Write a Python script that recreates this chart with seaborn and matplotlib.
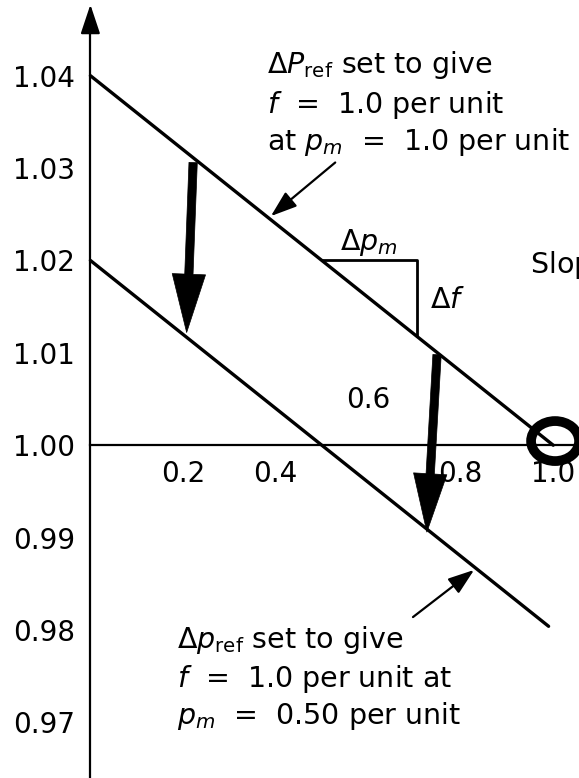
import matplotlib
matplotlib.use("Agg")
import matplotlib.pyplot as plt
from matplotlib.patches import Ellipse
import seaborn as sns

# Speed-droop characteristics: mechanical power p_m (per unit) vs frequency f (per unit)
upper_p = [0.0, 1.0]
upper_f = [1.04, 1.00]
lower_p = [0.0, 0.99]
lower_f = [1.02, 0.9804]

# Slope triangle drawn against the upper characteristic
tri_p = [0.50, 0.705, 0.705]
tri_f = [1.020, 1.020, 1.0118]

y_ticks = [0.97, 0.98, 0.99, 1.00, 1.01, 1.02, 1.03, 1.04]
y_labels = ["0.97", "0.98", "0.99", "1.00", "1.01", "1.02", "1.03", "1.04"]
x_ticks = [0.2, 0.4, 0.6, 0.8, 1.0]
x_labels = ["0.2", "0.4", "", "0.8", "1.0"]   # 0.6 is written above the axis

# Bold arrows showing the shift from the upper to the lower characteristic
shift_start_p = [0.222, 0.749]
shift_start_f = [1.0306, 1.0098]
shift_end_p = [0.208, 0.727]
shift_end_f = [1.0122, 0.9906]

# Operating point that is circled
op_p, op_f = 1.004, 1.00045

sns.set_style("white")
plt.rcParams["font.family"] = ["DejaVu Sans"]
plt.rcParams["mathtext.fontset"] = "dejavusans"
plt.rcParams["text.color"] = "black"

fig = plt.figure(figsize=(5.79, 7.78), dpi=100)
ax = fig.add_axes([0, 0, 1, 1])
ax.set_xlim(-0.1953, 1.0557)
ax.set_ylim(0.96398, 1.04819)

# Axes crossing at (0, 1.00)
for side in ["top", "right"]:
    ax.spines[side].set_visible(False)
ax.spines["left"].set_position(("data", 0.0))
ax.spines["bottom"].set_position(("data", 1.0))
ymin, ymax = ax.get_ylim()
xmin, xmax = ax.get_xlim()
ax.spines["bottom"].set_bounds(0.0, xmax)
ax.spines["left"].set_bounds(ymin, ymax - 0.0025)
for side in ["left", "bottom"]:
    ax.spines[side].set_color("black")
    ax.spines[side].set_linewidth(1.6)

# arrow head on top of the frequency axis
ax.annotate("", xy=(0.0, ymax - 0.0005), xytext=(0.0, ymax - 0.0030),
            arrowprops=dict(arrowstyle="-|>,head_length=0.9,head_width=0.3",
                            mutation_scale=20, color="black", lw=1.6,
                            shrinkA=0, shrinkB=0))

ax.set_yticks(y_ticks, y_labels)
ax.tick_params(axis="y", direction="in", length=17, width=1.5, pad=11,
               labelsize=20, colors="black")
ax.set_xticks(x_ticks, x_labels)
ax.tick_params(axis="x", direction="in", length=14, width=1.5, pad=11,
               labelsize=20, colors="black")
ax.text(0.6, 1.00403, "0.6", ha="center", va="baseline", fontsize=20)

# Droop lines and slope triangle
line_kw = dict(estimator=None, sort=False, color="black", ax=ax)
sns.lineplot(x=upper_p, y=upper_f, linewidth=2.4, **line_kw)
sns.lineplot(x=lower_p, y=lower_f, linewidth=2.4, **line_kw)
sns.lineplot(x=tri_p, y=tri_f, linewidth=2.0, **line_kw)

ax.text(0.540, 1.02113, r"$\Delta p_m$", fontsize=20.5, va="baseline")
ax.text(0.734, 1.01484, r"$\Delta f$", fontsize=20.5, va="baseline")
ax.text(0.950, 1.01864, r"Slope = $-R$", fontsize=20.5, va="baseline")

# Bold hand-drawn shift arrows
for ps, fs, pe, fe in zip(shift_start_p, shift_start_f, shift_end_p, shift_end_f):
    ax.annotate("", xy=(pe, fe), xytext=(ps, fs),
                arrowprops=dict(arrowstyle="simple,head_length=4.2,head_width=2.4,tail_width=0.6",
                                mutation_scale=10, facecolor="black",
                                edgecolor="black", lw=0.5,
                                shrinkA=0, shrinkB=0), zorder=4)

# Circle around the rated operating point
ax.add_patch(Ellipse((op_p, op_f), width=0.1037, height=0.00433,
                     facecolor="none", edgecolor="black", lw=7, zorder=5))

# Annotation for the upper characteristic
txt = dict(fontsize=20.5, va="baseline", ha="left")
ax.text(0.382, 1.04029, r"$\Delta P_{\mathrm{ref}}$ set to give", **txt)
ax.text(0.382, 1.03596, r"$f$  =  1.0 per unit", **txt)
ax.text(0.382, 1.03195, r"at $p_m$  =  1.0 per unit", **txt)
ax.annotate("", xy=(0.390, 1.0248), xytext=(0.529, 1.0306),
            arrowprops=dict(arrowstyle="-|>,head_length=0.8,head_width=0.28",
                            mutation_scale=20, color="black", lw=1.6,
                            shrinkA=0, shrinkB=0))

# Annotation for the lower characteristic
ax.text(0.188, 0.97805, r"$\Delta p_{\mathrm{ref}}$ set to give", **txt)
ax.text(0.188, 0.97383, r"$f$  =  1.0 per unit at", **txt)
ax.text(0.188, 0.96983, r"$p_m$  =  0.50 per unit", **txt)
ax.annotate("", xy=(0.829, 0.9865), xytext=(0.697, 0.9814),
            arrowprops=dict(arrowstyle="-|>,head_length=0.8,head_width=0.28",
                            mutation_scale=20, color="black", lw=1.6,
                            shrinkA=0, shrinkB=0))

fig.savefig("out.png", dpi=100, facecolor="white")
